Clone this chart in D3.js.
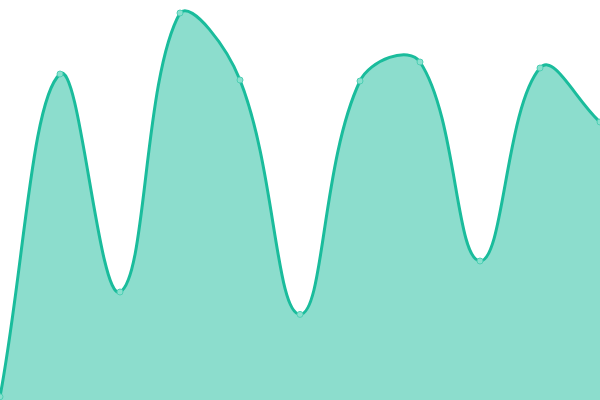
<!DOCTYPE html>
<html><head><meta charset="utf-8">
<script src="https://cdn.jsdelivr.net/npm/d3@7"></script>
<style>html,body{margin:0;padding:0;background:#fff;overflow:hidden}</style>
</head><body>
<svg id="c" width="600" height="400"></svg>
<script>
const categories = [0,1,2,3,4,5,6,7,8,9,10];
const values = [0.8, 81.5, 27, 96.75, 80, 21.4, 79.75, 84.5, 34.75, 83, 69.5];

const W = 600, H = 400;
const svg = d3.select("#c");
const x = d3.scaleLinear().domain([0, 10]).range([0, W]);
const y = d3.scaleLinear().domain([0, 100]).range([H, 0]);
const data = categories.map((c, i) => ({c, v: values[i]}));

// tension-based spline (distance-weighted), control points capped to the plot area
function SplineCurve(context, t) { this._context = context; this._t = t; }
SplineCurve.prototype = {
  areaStart() { this._line = 0; },
  areaEnd() { this._line = NaN; },
  lineStart() { this._x = []; this._y = []; },
  point(px, py) { this._x.push(+px); this._y.push(+py); },
  lineEnd() {
    const xs = this._x, ys = this._y, n = xs.length, c = this._context, t = this._t;
    if (n) {
      this._line ? c.lineTo(xs[0], ys[0]) : c.moveTo(xs[0], ys[0]);
      if (n === 2) c.lineTo(xs[1], ys[1]);
      else if (n > 2) {
        const prevC = [], nextC = [];
        const cap = (px, py) => [Math.max(0, Math.min(W, px)), Math.max(0, Math.min(H, py))];
        for (let i = 0; i < n; i++) {
          const pi = i > 0 ? i - 1 : i, ni = i < n - 1 ? i + 1 : i;
          const d01 = Math.hypot(xs[i] - xs[pi], ys[i] - ys[pi]);
          const d12 = Math.hypot(xs[ni] - xs[i], ys[ni] - ys[i]);
          let s01 = d01 / (d01 + d12), s12 = d12 / (d01 + d12);
          if (isNaN(s01)) s01 = 0; if (isNaN(s12)) s12 = 0;
          const fa = t * s01, fb = t * s12;
          const dx = xs[ni] - xs[pi], dy = ys[ni] - ys[pi];
          prevC[i] = cap(xs[i] - fa * dx, ys[i] - fa * dy);
          nextC[i] = cap(xs[i] + fb * dx, ys[i] + fb * dy);
        }
        for (let i = 1; i < n; i++) {
          c.bezierCurveTo(nextC[i-1][0], nextC[i-1][1], prevC[i][0], prevC[i][1], xs[i], ys[i]);
        }
      }
    }
    if (this._line || (this._line !== 0 && n === 1)) c.closePath();
    this._line = 1 - this._line;
    this._x = this._y = null;
  }
};
const curve = ctx => new SplineCurve(ctx, 0.4);

svg.append("path").datum(data)
  .attr("d", d3.area().x(d => x(d.c)).y0(y(0)).y1(d => y(d.v)).curve(curve))
  .attr("fill", "rgba(26,188,156,0.5)");
svg.append("path").datum(data)
  .attr("d", d3.line().x(d => x(d.c)).y(d => y(d.v)).curve(curve))
  .attr("fill", "none").attr("stroke", "#1abc9c").attr("stroke-width", 3);
svg.selectAll("circle").data(data).enter().append("circle")
  .attr("cx", d => x(d.c)).attr("cy", d => y(d.v)).attr("r", 3)
  .attr("fill", "#89e0ce").attr("stroke", "#4fcfb4").attr("stroke-width", 1);
</script>
</body></html>
